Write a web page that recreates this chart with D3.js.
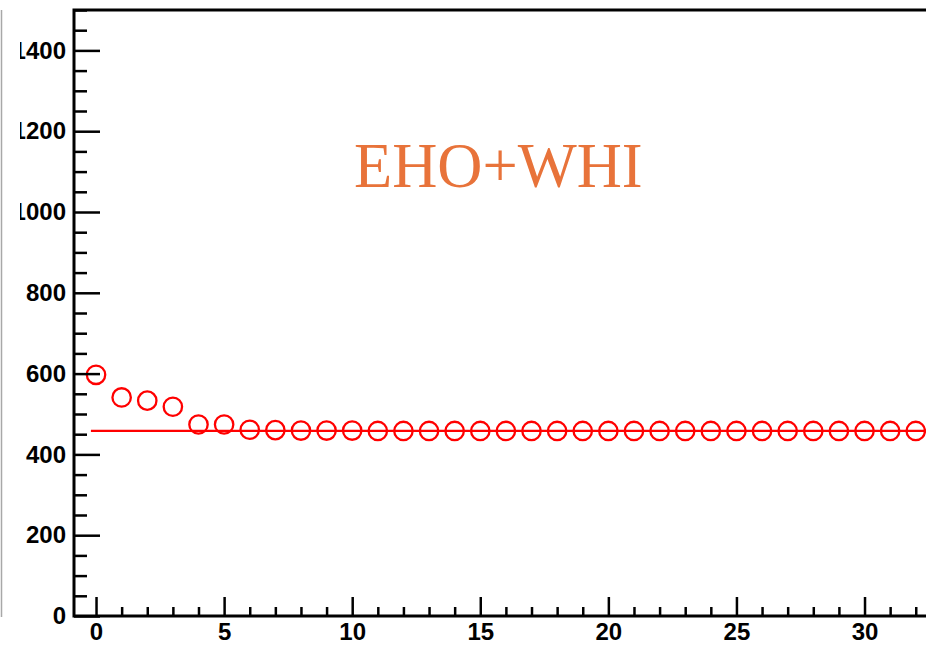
<!DOCTYPE html>
<html>
<head>
<meta charset="utf-8">
<script src="https://cdn.jsdelivr.net/npm/d3@7"></script>
<style>
  html, body { margin: 0; padding: 0; background: #fff; }
  svg { display: block; }
</style>
</head>
<body>
<script>
// Iteration index and fitted value per iteration
const iterations = d3.range(0, 33);
const values = [597, 541, 533, 518, 474, 474, 461, 460, 459, 459,
                459, 458, 458, 458, 458, 458, 458, 458, 458, 458,
                458, 458, 458, 458, 458, 458, 458, 458, 458, 458,
                458, 458, 458];
const referenceLevel = 458;

const xMajorTicks = [0, 5, 10, 15, 20, 25, 30];
const xMinorTicks = d3.range(0, 33).filter(v => v % 5 !== 0);
const yMajorTicks = [0, 200, 400, 600, 800, 1000, 1200, 1400];
const yMinorTicks = d3.range(0, 1501, 50).filter(v => v % 200 !== 0);
const titleText = "EHO+WHI";

const W = 926, H = 645;
const frame = { left: 74, top: 10, bottom: 616, right: 926 };
const padEdge = 20;

const x = d3.scaleLinear().domain([-0.86, 32.4]).range([frame.left, frame.right]);
const y = d3.scaleLinear().domain([0, 1500]).range([frame.bottom, frame.top]);

const svg = d3.select("body").append("svg")
  .attr("width", W).attr("height", H);

const defs = svg.append("defs");
// y labels are cut at the pad edge; coordinates local to the y-axis group
defs.append("clipPath").attr("id", "labelClip")
  .append("rect").attr("x", padEdge - frame.left).attr("y", -100)
  .attr("width", W).attr("height", H + 200);
defs.append("clipPath").attr("id", "plotClip")
  .append("rect").attr("x", frame.left).attr("y", frame.top)
  .attr("width", frame.right - frame.left).attr("height", frame.bottom - frame.top);

// thin grey pad edge on the far left
svg.append("line")
  .attr("x1", 1.5).attr("x2", 1.5).attr("y1", frame.top).attr("y2", frame.bottom + 1)
  .attr("stroke", "#a8a8a8").attr("stroke-width", 1.5);

// data layer
const plot = svg.append("g").attr("clip-path", "url(#plotClip)");

plot.append("line")
  .attr("x1", x(-0.2)).attr("x2", x(32.4))
  .attr("y1", y(referenceLevel)).attr("y2", y(referenceLevel))
  .attr("stroke", "#ff0000").attr("stroke-width", 2.2);

plot.selectAll("circle.pt")
  .data(iterations.map((it, i) => ({ it, v: values[i] })))
  .join("circle")
  .attr("class", "pt")
  .attr("cx", d => x(d.it))
  .attr("cy", d => y(d.v))
  .attr("r", 9.2)
  .attr("fill", "none")
  .attr("stroke", "#ff0000")
  .attr("stroke-width", 2.3);

// axes
const fontFamily = "'Liberation Sans', Arial, Helvetica, sans-serif";

function styleAxis(g) {
  g.select(".domain").remove();
  g.selectAll(".tick line").attr("stroke", "#000").attr("stroke-width", 2.5);
  g.selectAll(".tick text")
    .attr("fill", "#000")
    .style("font-family", fontFamily)
    .style("font-weight", "bold")
    .style("font-size", "24px");
}

const yAxisG = svg.append("g").attr("transform", `translate(${frame.left},0)`);
yAxisG.append("g")
  .call(d3.axisLeft(y).tickValues(yMinorTicks).tickFormat("").tickSize(-13))
  .call(styleAxis);
yAxisG.append("g")
  .attr("clip-path", "url(#labelClip)")
  .call(d3.axisLeft(y).tickValues(yMajorTicks).tickFormat(d3.format("d")).tickSize(-26).tickPadding(8))
  .call(styleAxis);

const xAxisG = svg.append("g").attr("transform", `translate(0,${frame.bottom})`);
xAxisG.append("g")
  .call(d3.axisBottom(x).tickValues(xMinorTicks).tickFormat("").tickSize(-9))
  .call(styleAxis);
xAxisG.append("g")
  .call(d3.axisBottom(x).tickValues(xMajorTicks).tickFormat(d3.format("d")).tickSize(-19).tickPadding(7))
  .call(styleAxis);

// frame lines (left, bottom, top)
svg.append("path")
  .attr("d", `M${frame.right},${frame.top}H${frame.left}V${frame.bottom}H${frame.right}`)
  .attr("fill", "none").attr("stroke", "#000").attr("stroke-width", 3);

// title
svg.append("text")
  .attr("x", 354).attr("y", 187)
  .attr("fill", "#e8733a")
  .style("font-family", "'Liberation Serif', 'Times New Roman', serif")
  .style("font-size", "62.5px")
  .text(titleText);
</script>
</body>
</html>
